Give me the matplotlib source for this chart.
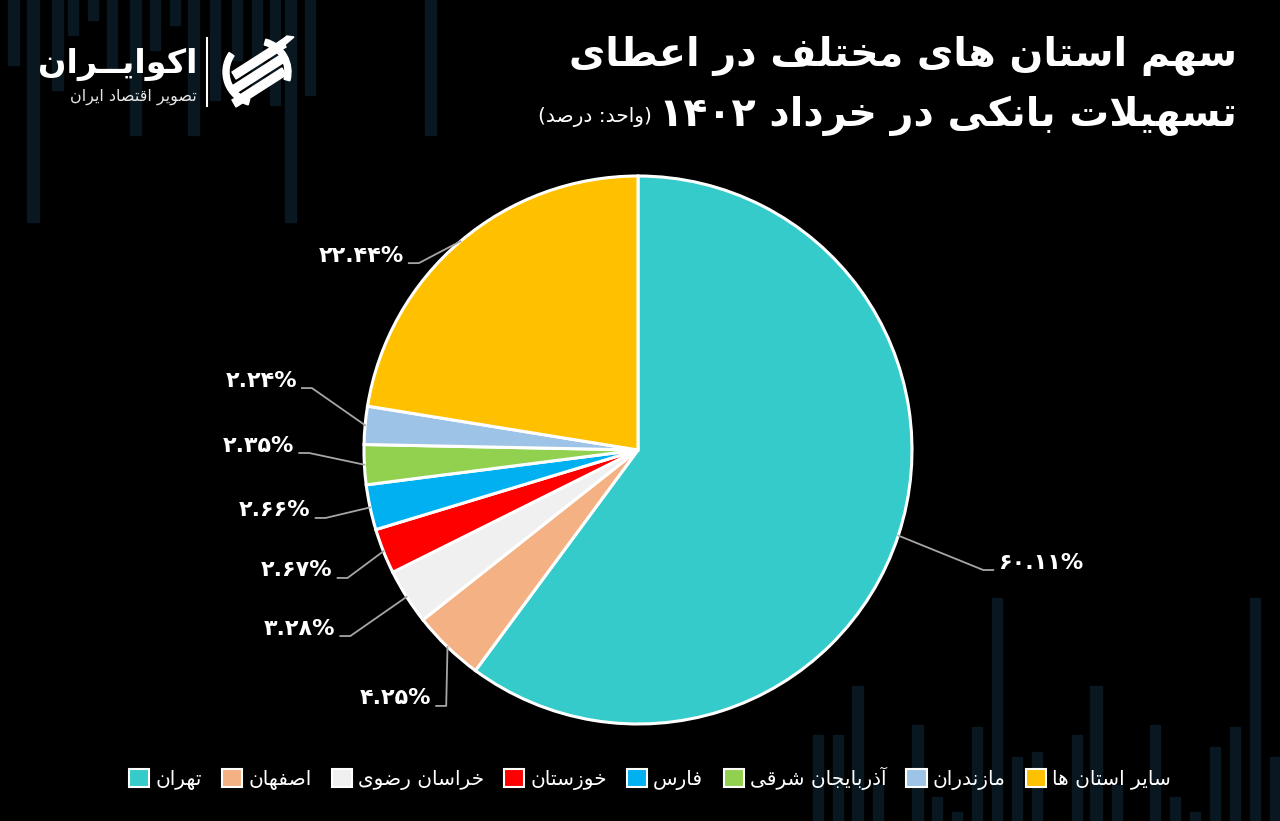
import matplotlib
matplotlib.use('Agg')
import matplotlib.pyplot as plt
from matplotlib.patches import Rectangle, Patch, Wedge, Polygon
import numpy as np

# داده ها
provinces = ['تهران', 'اصفهان', 'خراسان رضوی', 'خوزستان', 'فارس',
             'آذربایجان شرقی', 'مازندران', 'سایر استان ها']
shares = [60.11, 4.25, 3.28, 2.67, 2.66, 2.35, 2.24, 22.44]
colors = ['#35CBCB', '#F4B183', '#F0F0F0', '#FF0000', '#00B0F0',
          '#92D050', '#9DC3E6', '#FFC000']

title_1 = 'سهم استان های مختلف در اعطای'
title_2 = 'تسهیلات بانکی در خرداد ۱۴۰۲'
unit_txt = '(واحد: درصد)'
logo_name = 'اکوایــران'
logo_sub = 'تصویر اقتصاد ایران'

# نقطه شکست خط راهنمای هر برچسب (مختصات پای)
label_xy = [(1.26, -0.438), (-0.70, -0.934), (-1.05, -0.679), (-1.06, -0.467),
            (-1.14, -0.248), (-1.20, -0.011), (-1.19, 0.226), (-0.80, 0.682)]

# ستون های تزئینی پس زمینه (پیکسل)
bars_top = [(8, 11, 65), (27, 12, 222), (52, 11, 90), (68, 10, 35), (88, 10, 20),
            (107, 10, 70), (130, 11, 135), (150, 10, 50), (170, 10, 25),
            (188, 11, 135), (210, 10, 100), (232, 10, 60), (252, 10, 85),
            (270, 10, 105), (285, 11, 222), (305, 10, 95), (425, 11, 135)]
bars_bottom = [(813, 10, 735), (833, 10, 735), (852, 11, 686), (873, 10, 785),
               (912, 11, 725), (932, 10, 797), (952, 10, 812), (972, 10, 727),
               (992, 10, 598), (1012, 10, 757), (1032, 10, 752), (1072, 10, 735),
               (1090, 12, 686), (1112, 10, 785), (1150, 10, 725), (1170, 10, 797),
               (1190, 10, 812), (1210, 10, 747), (1230, 10, 727), (1250, 10, 598),
               (1270, 10, 757)]

# شکل های حروف فارسی: جدا، پایانی، آغازی، میانی
FORMS = {
    'ا': (0xFE8D, 0xFE8E, None, None), 'آ': (0xFE81, 0xFE82, None, None),
    'ب': (0xFE8F, 0xFE90, 0xFE91, 0xFE92), 'پ': (0xFB56, 0xFB57, 0xFB58, 0xFB59),
    'ت': (0xFE95, 0xFE96, 0xFE97, 0xFE98), 'ث': (0xFE99, 0xFE9A, 0xFE9B, 0xFE9C),
    'ج': (0xFE9D, 0xFE9E, 0xFE9F, 0xFEA0), 'چ': (0xFB7A, 0xFB7B, 0xFB7C, 0xFB7D),
    'ح': (0xFEA1, 0xFEA2, 0xFEA3, 0xFEA4), 'خ': (0xFEA5, 0xFEA6, 0xFEA7, 0xFEA8),
    'د': (0xFEA9, 0xFEAA, None, None), 'ذ': (0xFEAB, 0xFEAC, None, None),
    'ر': (0xFEAD, 0xFEAE, None, None), 'ز': (0xFEAF, 0xFEB0, None, None),
    'ژ': (0xFB8A, 0xFB8B, None, None),
    'س': (0xFEB1, 0xFEB2, 0xFEB3, 0xFEB4), 'ش': (0xFEB5, 0xFEB6, 0xFEB7, 0xFEB8),
    'ص': (0xFEB9, 0xFEBA, 0xFEBB, 0xFEBC), 'ض': (0xFEBD, 0xFEBE, 0xFEBF, 0xFEC0),
    'ط': (0xFEC1, 0xFEC2, 0xFEC3, 0xFEC4), 'ظ': (0xFEC5, 0xFEC6, 0xFEC7, 0xFEC8),
    'ع': (0xFEC9, 0xFECA, 0xFECB, 0xFECC), 'غ': (0xFECD, 0xFECE, 0xFECF, 0xFED0),
    'ف': (0xFED1, 0xFED2, 0xFED3, 0xFED4), 'ق': (0xFED5, 0xFED6, 0xFED7, 0xFED8),
    'ک': (0xFB8E, 0xFB8F, 0xFB90, 0xFB91), 'گ': (0xFB92, 0xFB93, 0xFB94, 0xFB95),
    'ل': (0xFEDD, 0xFEDE, 0xFEDF, 0xFEE0), 'م': (0xFEE1, 0xFEE2, 0xFEE3, 0xFEE4),
    'ن': (0xFEE5, 0xFEE6, 0xFEE7, 0xFEE8), 'ه': (0xFEE9, 0xFEEA, 0xFEEB, 0xFEEC),
    'و': (0xFEED, 0xFEEE, None, None),
    'ی': (0xFBFC, 0xFBFD, 0xFBFE, 0xFBFF),
    'ـ': (0x0640, 0x0640, 0x0640, 0x0640),
}
LAM_ALEF = {'ا': (0xFEFB, 0xFEFC), 'آ': (0xFEF5, 0xFEF6)}
LTR_CHARS = set('0123456789۰۱۲۳۴۵۶۷۸۹.%')
MIRROR = {'(': ')', ')': '('}


def dual(c):
    return c in FORMS and FORMS[c][2] is not None


def shape(text):
    # اتصال حروف با شکل های نمایشی یونیکد
    out = []
    i = 0
    n = len(text)
    while i < n:
        c = text[i]
        if c not in FORMS:
            out.append(c)
            i += 1
            continue
        join_prev = i > 0 and dual(text[i - 1])
        if c == 'ل' and i + 1 < n and text[i + 1] in LAM_ALEF:
            lig = LAM_ALEF[text[i + 1]]
            out.append(chr(lig[1] if join_prev else lig[0]))
            i += 2
            continue
        join_next = dual(c) and i + 1 < n and text[i + 1] in FORMS
        f = FORMS[c]
        if join_prev and join_next:
            g = f[3]
        elif join_prev:
            g = f[1]
        elif join_next:
            g = f[2]
        else:
            g = f[0]
        out.append(chr(g))
        i += 1
    return ''.join(out)


def fa(text):
    # ترتیب نمایشی راست به چپ
    s = shape(text)
    runs = []
    for ch in s:
        num = ch in LTR_CHARS
        if runs and runs[-1][0] == num:
            runs[-1][1].append(ch)
        else:
            runs.append([num, [ch]])
    parts = []
    for num, chars in reversed(runs):
        if num:
            parts.append(''.join(chars))
        else:
            parts.append(''.join(MIRROR.get(c, c) for c in reversed(chars)))
    return ''.join(parts)


def fa_digits(s):
    return s.translate(str.maketrans('0123456789', '۰۱۲۳۴۵۶۷۸۹'))


def main():
    W, H = 1280, 821
    fig = plt.figure(figsize=(12.8, 8.21), dpi=100, facecolor='black')

    # لایه پس زمینه با مختصات پیکسلی
    bg = fig.add_axes([0, 0, 1, 1])
    bg.set_xlim(0, W)
    bg.set_ylim(H, 0)
    bg.axis('off')
    bg.add_patch(Rectangle((0, 0), W, H, color='black', zorder=0))
    for x, w, b in bars_top:
        bg.add_patch(Rectangle((x, -5), w, b + 5, color='#091820', zorder=1))
    for x, w, t in bars_bottom:
        bg.add_patch(Rectangle((x, t), w, H - t + 5, color='#091820', zorder=1))

    # عنوان
    bg.text(1237, 56, fa(title_1), color='white', fontsize=28.5, fontweight='bold',
            ha='right', va='center', family='DejaVu Sans', zorder=5)
    t2 = bg.text(1237, 116, fa(title_2), color='white', fontsize=28.5, fontweight='bold',
                 ha='right', va='center', family='DejaVu Sans', zorder=5)
    bg.annotate(fa(unit_txt), xy=(0, 0.22), xycoords=t2, xytext=(-5, 0),
                textcoords='offset points', ha='right', va='bottom',
                color='white', fontsize=14.5, family='DejaVu Sans', zorder=5)

    # لوگو
    bg.text(197, 64, fa(logo_name), color='white', fontsize=24, fontweight='bold',
            ha='right', va='center', family='DejaVu Sans', zorder=5)
    bg.text(197, 97, fa(logo_sub), color='#E6E6E6', fontsize=11.5,
            ha='right', va='center', family='DejaVu Sans', zorder=5)
    bg.plot([207, 207], [38, 106], color='white', lw=1.5, zorder=5)
    bg.add_patch(Wedge((257, 72), 34, 105, 215, width=6, color='white', zorder=5))
    bg.add_patch(Wedge((257, 72), 34, -75, 15, width=6, color='white', zorder=5))
    for dy in (-14, 0, 14):
        bg.add_patch(Polygon([(232, 86 + dy), (236, 93 + dy), (286, 61 + dy), (282, 54 + dy)],
                             closed=True, color='white', zorder=5))
    bg.add_patch(Polygon([(268, 50), (274, 54), (294, 37), (287, 36)],
                         closed=True, color='white', zorder=5))

    # نمودار دایره ای
    cx, cy, r = 638, 450, 274
    ax = fig.add_axes([(cx - r) / W, (H - cy - r) / H, 2 * r / W, 2 * r / H])
    ax.set_facecolor('none')
    wedges, _ = ax.pie(shares, colors=colors, startangle=90, counterclock=False,
                       wedgeprops=dict(edgecolor='white', linewidth=2.2))
    for w in wedges:
        w.set_clip_on(False)
    ax.set_xlim(-1, 1)
    ax.set_ylim(-1, 1)
    ax.set_aspect('equal')
    ax.axis('off')

    seg = 10 / r
    gap = 5 / r
    for w, v, (ex, ey) in zip(wedges, shares, label_xy):
        th = np.deg2rad((w.theta1 + w.theta2) / 2)
        px, py = np.cos(th), np.sin(th)
        side = 1 if ex > 0 else -1
        ax.plot([px, ex, ex + side * seg], [py, ey, ey], color='#A6A6A6',
                lw=1.3, clip_on=False, zorder=3)
        ax.text(ex + side * (seg + gap), ey + 1.5 / r, fa_digits('%.2f%%' % v),
                color='white', fontsize=16, fontweight='bold',
                ha='left' if side > 0 else 'right', va='baseline',
                family='DejaVu Sans', clip_on=False)

    # راهنما
    handles = [Patch(facecolor=c, edgecolor='white', linewidth=1.5) for c in colors]
    leg = fig.legend(handles, [fa(p) for p in provinces], ncol=8, loc='center',
                     bbox_to_anchor=(650 / W, 1 - 778 / H), frameon=False,
                     handlelength=1.0, handleheight=1.0,
                     handletextpad=0.3, columnspacing=1.0,
                     prop={'family': 'DejaVu Sans', 'size': 14.5})
    for t in leg.get_texts():
        t.set_color('white')

    fig.savefig('out.png', dpi=100, facecolor='black')


if __name__ == '__main__':
    main()
